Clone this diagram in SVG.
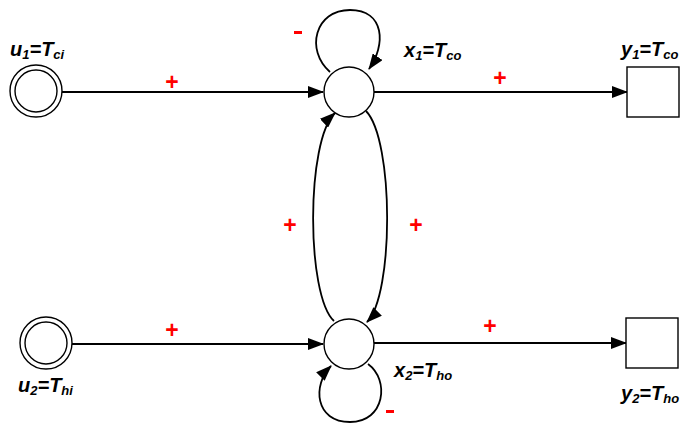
<svg xmlns="http://www.w3.org/2000/svg" width="684" height="424" viewBox="0 0 684 424">
<style>
.ln{fill:none;stroke:#000;stroke-width:1.8}
.nd{fill:#fff;stroke:#000;stroke-width:1.4}
.lb{font-family:"Liberation Sans",Arial,sans-serif;font-weight:bold;font-style:italic;font-size:20px;fill:#000}
.sb{font-size:13px}
.sg{font-family:"Liberation Sans",Arial,sans-serif;font-weight:bold;font-size:23px;fill:#f00;text-anchor:middle}
</style>
<defs>
<marker id="ah" markerWidth="16" markerHeight="12" refX="15" refY="6" orient="auto" markerUnits="userSpaceOnUse">
<path d="M0,0 L16,6 L0,12 Z" fill="#000"/>
</marker>
</defs>
<g id="connectors">
<path class="ln" d="M62,92 L323,92" marker-end="url(#ah)"/>
<path class="ln" d="M374,92 L627,92" marker-end="url(#ah)"/>
<path class="ln" d="M72,344 L323,344" marker-end="url(#ah)"/>
<path class="ln" d="M374,343 L626,343" marker-end="url(#ah)"/>
<path class="ln" d="M330,72 C305,50 315,10 350,10 C385,10 386,45 369,69" marker-end="url(#ah)"/>
<path class="ln" d="M368,364 C390,380 385,422 350,422 C315,422 312,385 331,366" marker-end="url(#ah)"/>
<path class="ln" d="M334,321 C306,295 306,140 335,113" marker-end="url(#ah)"/>
<path class="ln" d="M366,111 C394,140 394,295 367,322" marker-end="url(#ah)"/>
<text class="sg" x="172" y="90">+</text>
<text class="sg" x="500" y="86">+</text>
<text class="sg" x="290" y="233">+</text>
<text class="sg" x="416" y="233">+</text>
<text class="sg" x="172" y="338">+</text>
<text class="sg" x="490" y="334">+</text>
<rect x="294" y="31" width="8" height="3" fill="#f00"/>
<rect x="386" y="410" width="8" height="3" fill="#f00"/>
</g>
<g id="u1">
<circle class="nd" cx="36" cy="91" r="26"/>
<circle class="nd" cx="36" cy="91" r="21"/>
<text class="lb" x="10" y="56">u<tspan class="sb" dy="3">1</tspan><tspan dy="-3">=T</tspan><tspan class="sb" dy="3">ci</tspan></text>
</g>
<g id="u2">
<circle class="nd" cx="46" cy="343" r="26"/>
<circle class="nd" cx="46" cy="343" r="21"/>
<text class="lb" x="18" y="392">u<tspan class="sb" dy="3">2</tspan><tspan dy="-3">=T</tspan><tspan class="sb" dy="3">hi</tspan></text>
</g>
<g id="x1">
<circle class="nd" cx="349" cy="92" r="25"/>
<text class="lb" x="404" y="57">x<tspan class="sb" dy="3">1</tspan><tspan dy="-3">=T</tspan><tspan class="sb" dy="3">co</tspan></text>
</g>
<g id="x2">
<circle class="nd" cx="349" cy="344" r="25"/>
<text class="lb" x="394" y="377">x<tspan class="sb" dy="3">2</tspan><tspan dy="-3">=T</tspan><tspan class="sb" dy="3">ho</tspan></text>
</g>
<g id="y1">
<rect class="nd" x="627" y="67" width="52" height="50"/>
<text class="lb" x="621" y="56">y<tspan class="sb" dy="3">1</tspan><tspan dy="-3">=T</tspan><tspan class="sb" dy="3">co</tspan></text>
</g>
<g id="y2">
<rect class="nd" x="626" y="318" width="52" height="50"/>
<text class="lb" x="621" y="400">y<tspan class="sb" dy="3">2</tspan><tspan dy="-3">=T</tspan><tspan class="sb" dy="3">ho</tspan></text>
</g>
</svg>
